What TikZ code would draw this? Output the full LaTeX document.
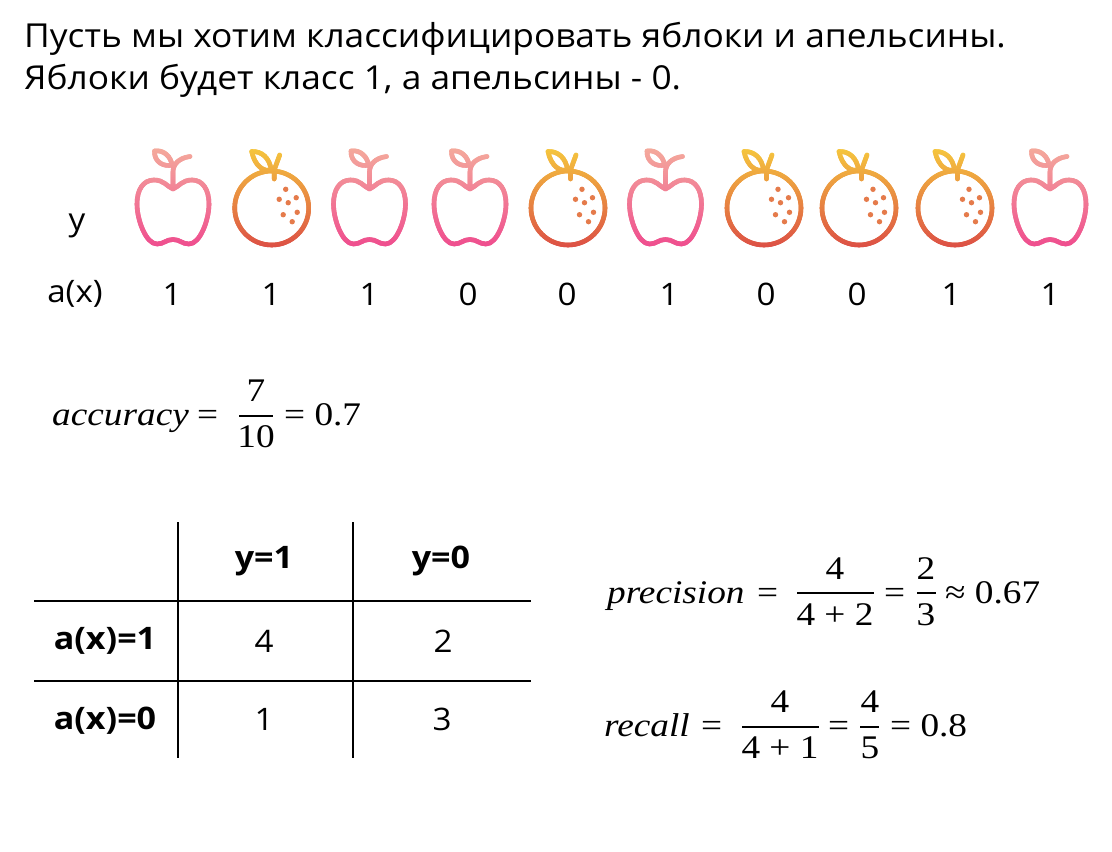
\documentclass[tikz,border=0pt]{standalone}
\usepackage{fontspec}
\setmainfont{Open Sans}
\newfontfamily\headfont[FakeStretch=1.07]{Open Sans}
\newfontfamily\boldfont[FakeStretch=1.1]{Open Sans}
\newfontfamily\mathfont[FakeStretch=1.13]{Liberation Serif}
\definecolor{appletop}{HTML}{F4AC9C}
\definecolor{applebot}{HTML}{EF4C8E}
\definecolor{orangetop}{HTML}{F6C93D}
\definecolor{orangebot}{HTML}{DC4F45}
\definecolor{dotcolor}{HTML}{E57B4B}
\newcommand{\appleshape}{%
  (0,189) .. controls (6,186.5) and (9,180) .. (19,180) .. controls (30,180) and (36,190) .. (36,204)
  .. controls (36,220) and (27,244) .. (16,244) .. controls (9,244) and (7,239.5) .. (0,239.5)
  .. controls (-7,239.5) and (-9,244) .. (-16,244) .. controls (-27,244) and (-36,220) .. (-36,204)
  .. controls (-36,190) and (-30,180) .. (-19,180) .. controls (-9,180) and (-6,186.5) .. (0,189)
  (0,188) -- (0,172) .. controls (0,164) and (6,158) .. (17,156.5)
  (-18.5,151) .. controls (-9,149.5) and (-2,157) .. (-1,165) .. controls (-8,167) and (-19,163) .. (-18.5,151)}
\newcommand{\orangeshape}{%
  (0,208) ++(37,0) arc[start angle=0,end angle=360,radius=37]
  (2.5,179) -- (2.5,170) -- (8,155)
  (-20,151.5) .. controls (-10,151) and (-2,158) .. (-0.5,170) .. controls (-8,172) and (-17,166) .. (-20,151.5)}
\newcommand{\gradicon}[4]{% x, top colour, bottom colour, shape
  \begin{scope}[shift={(#1,0)}]
    \foreach \yy in {146,148,...,248} {
      \pgfmathsetmacro{\mixv}{(\yy-146)/102*100}
      \colorlet{bandc}{#3!\mixv!#2}
      \begin{scope}
        \clip (-50,\yy-0.3) rectangle (50,\yy+2.3);
        \draw[color=bandc,line width=4.6pt,line cap=round,line join=round] #4;
      \end{scope}
    }
  \end{scope}}
\newcommand{\appleicon}[1]{\gradicon{#1}{appletop}{applebot}{\appleshape}}
\newcommand{\orangeicon}[1]{%
  \gradicon{#1}{orangetop}{orangebot}{\orangeshape}%
  \begin{scope}[shift={(#1,0)}]
    \foreach \dx/\dy in {14/189.3,24.5/197.7,7.5/199.3,16.5/202.7,25.5/212.3,11.5/214.7,20.5/221.7}
      \fill[dotcolor] (\dx,\dy) circle[radius=2.7];
  \end{scope}}
\tikzset{
  x=1pt,y=-1pt,
  headline/.style={anchor=base west,inner sep=0pt,font=\headfont\fontsize{33}{33}\selectfont},
  label/.style={anchor=center,inner sep=0pt,font=\headfont\fontsize{31}{31}\selectfont},
  boldlabel/.style={anchor=center,inner sep=0pt,font=\boldfont\bfseries\fontsize{31}{31}\selectfont},
  eq/.style={anchor=base west,inner sep=0pt,font=\mathfont\fontsize{33}{33}\selectfont},
  frac/.style={anchor=base,inner sep=0pt,font=\mathfont\fontsize{33}{33}\selectfont},
  fracbar/.style={line width=2pt,black},
  grid/.style={line width=1.5pt,black}
}
\begin{document}
\begin{tikzpicture}
\useasboundingbox[fill=white] (0,0) rectangle (1112,852);
\node[headline] (l1) at (24,47) {Пусть мы хотим классифицировать яблоки и апельсины.};
\node[headline] (l2) at (24,89) {Яблоки будет класс 1, а апельсины - 0.};
\node[label] (ylab) at (77,226) {y};
\node[label] (axlab) at (75,294) {a(x)};
\appleicon{173}\orangeicon{271.7}\appleicon{369.5}\appleicon{470}\orangeicon{568}
\appleicon{665.5}\orangeicon{764}\orangeicon{859}\orangeicon{955}\appleicon{1050}
\foreach \n/\x/\v in {a/172/1,b/271/1,c/369/1,d/468/0,e/567/0,f/669/1,g/766/0,h/857/0,i/951/1,j/1050/1}
  \node[label] (pred\n) at (\x,294) {\v};
% accuracy
\node[eq] (acc) at (52,425) {\textit{accuracy}};
\node[eq] (acce) at (197,425) {=};
\node[frac] (acct) at (256,401) {7};
\node[frac] (accb) at (256,447) {10};
\draw[fracbar] (239,416) -- (273,416);
\node[eq] (accr) at (284,425) {= 0.7};
% table
\coordinate (v1t) at (178,522); \coordinate (v1b) at (178,758);
\coordinate (v2t) at (353,522); \coordinate (v2b) at (353,758);
\coordinate (h1l) at (34,601); \coordinate (h1r) at (531,601);
\coordinate (h2l) at (34,681); \coordinate (h2r) at (531,681);
\draw[grid] (v1t) -- (v1b); \draw[grid] (v2t) -- (v2b);
\draw[grid] (h1l) -- (h1r); \draw[grid] (h2l) -- (h2r);
\node[boldlabel] (c01) at (264,561) {y=1};
\node[boldlabel] (c02) at (441,561) {y=0};
\node[boldlabel] (c10) at (105,641) {a(x)=1};
\node[boldlabel] (c20) at (105,721) {a(x)=0};
\node[label] (c11) at (264,641) {4};
\node[label] (c12) at (443,641) {2};
\node[label] (c21) at (264,719) {1};
\node[label] (c22) at (442,719) {3};
% precision
\node[eq] (pr) at (607,603) {\textit{precision}};
\node[eq] (pre0) at (757,603) {=};
\node[frac] (prt) at (835,579) {4};
\node[frac] (prb) at (835,625) {4 + 2};
\draw[fracbar] (797,593) -- (874,593);
\node[eq] (pre) at (884,603) {=};
\node[frac] (prt2) at (926,579) {2};
\node[frac] (prb2) at (926,625) {3};
\draw[fracbar] (917,593) -- (936,593);
\node[eq] (prr) at (945,603) {≈ 0.67};
% recall
\node[eq] (re) at (604,736) {\textit{recall}};
\node[eq] (re0) at (701,736) {=};
\node[frac] (ret) at (780,712) {4};
\node[frac] (reb) at (780,758) {4 + 1};
\draw[fracbar] (742,727) -- (819,727);
\node[eq] (ree) at (828,736) {=};
\node[frac] (ret2) at (870,712) {4};
\node[frac] (reb2) at (870,758) {5};
\draw[fracbar] (860,727) -- (879,727);
\node[eq] (rer) at (890,736) {= 0.8};
\end{tikzpicture}
\end{document}
